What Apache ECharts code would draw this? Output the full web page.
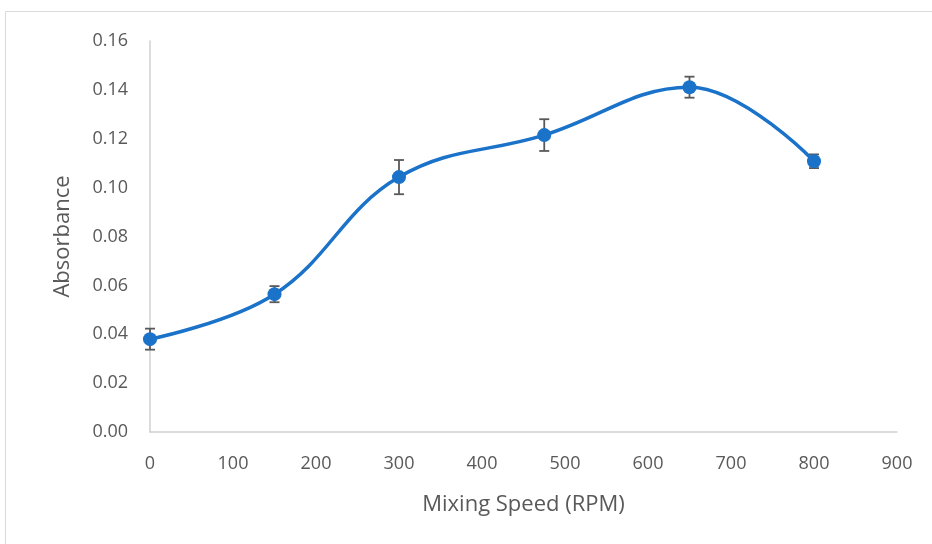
<!DOCTYPE html>
<html>
<head>
<meta charset="utf-8">
<script src="https://cdn.jsdelivr.net/npm/echarts@6/dist/echarts.min.js"></script>
<style>
html, body { margin: 0; padding: 0; background: #fff; }
#main { width: 932px; height: 544px; }
</style>
</head>
<body>
<div id="main"></div>
<script>
var speeds = [0, 150, 300, 475, 650, 800];
var absorbance = [0.038, 0.0564, 0.1043, 0.1215, 0.1411, 0.1108];
var errors = [0.0043, 0.0033, 0.007, 0.0065, 0.0043, 0.0028];

var myChart = echarts.init(document.getElementById('main'));
var FONT = '"Open Sans", "Noto Sans", sans-serif';
var TEXT_COLOR = '#595959';

var lineData = [];
var errData = [];
for (var i = 0; i < speeds.length; i++) {
    lineData.push([speeds[i], absorbance[i]]);
    errData.push([speeds[i], absorbance[i] - errors[i], absorbance[i] + errors[i]]);
}

var option = {
    animation: false,
    backgroundColor: '#fff',
    graphic: [{
        type: 'rect',
        shape: { x: 5.5, y: 11.5, width: 940, height: 540 },
        style: { fill: 'none', stroke: '#d9d9d9', lineWidth: 1 },
        silent: true
    }],
    grid: { left: 150, right: 35, top: 41, bottom: 112 },
    xAxis: {
        type: 'value',
        min: 0, max: 900, interval: 100,
        name: 'Mixing Speed (RPM)',
        nameLocation: 'middle',
        nameGap: 62,
        nameTextStyle: { fontFamily: FONT, fontSize: 22, color: TEXT_COLOR },
        axisLine: { show: true, lineStyle: { color: '#d0d0d0', width: 1.5 } },
        axisTick: { show: false },
        splitLine: { show: false },
        axisLabel: { fontFamily: FONT, fontSize: 18, color: TEXT_COLOR, margin: 23 }
    },
    yAxis: {
        type: 'value',
        min: 0, max: 0.16, interval: 0.02,
        name: 'Absorbance',
        nameLocation: 'middle',
        nameGap: 76,
        nameTextStyle: { fontFamily: FONT, fontSize: 22, color: TEXT_COLOR },
        axisLine: { show: true, lineStyle: { color: '#d0d0d0', width: 1.5 } },
        axisTick: { show: false },
        splitLine: { show: false },
        axisLabel: {
            fontFamily: FONT, fontSize: 18, color: TEXT_COLOR, margin: 22,
            formatter: function (v) { return v.toFixed(2); }
        }
    },
    series: [{
        type: 'custom',
        name: 'error',
        data: errData,
        z: 3,
        renderItem: function (params, api) {
            var x = api.value(0);
            var lo = api.coord([x, api.value(1)]);
            var hi = api.coord([x, api.value(2)]);
            var hw = 5;
            var st = { stroke: '#595959', lineWidth: 1.8 };
            return {
                type: 'group',
                children: [
                    { type: 'line', shape: { x1: lo[0], y1: lo[1], x2: hi[0], y2: hi[1] }, style: st },
                    { type: 'line', shape: { x1: lo[0] - hw, y1: lo[1], x2: lo[0] + hw, y2: lo[1] }, style: st },
                    { type: 'line', shape: { x1: hi[0] - hw, y1: hi[1], x2: hi[0] + hw, y2: hi[1] }, style: st }
                ]
            };
        }
    }, {
        type: 'line',
        name: 'Absorbance',
        data: lineData,
        smooth: 0.4,
        z: 4,
        symbol: 'circle',
        symbolSize: 14,
        lineStyle: { color: '#1a72c9', width: 3.5 },
        itemStyle: { color: '#1a72c9' }
    }]
};

myChart.setOption(option);
</script>
</body>
</html>
